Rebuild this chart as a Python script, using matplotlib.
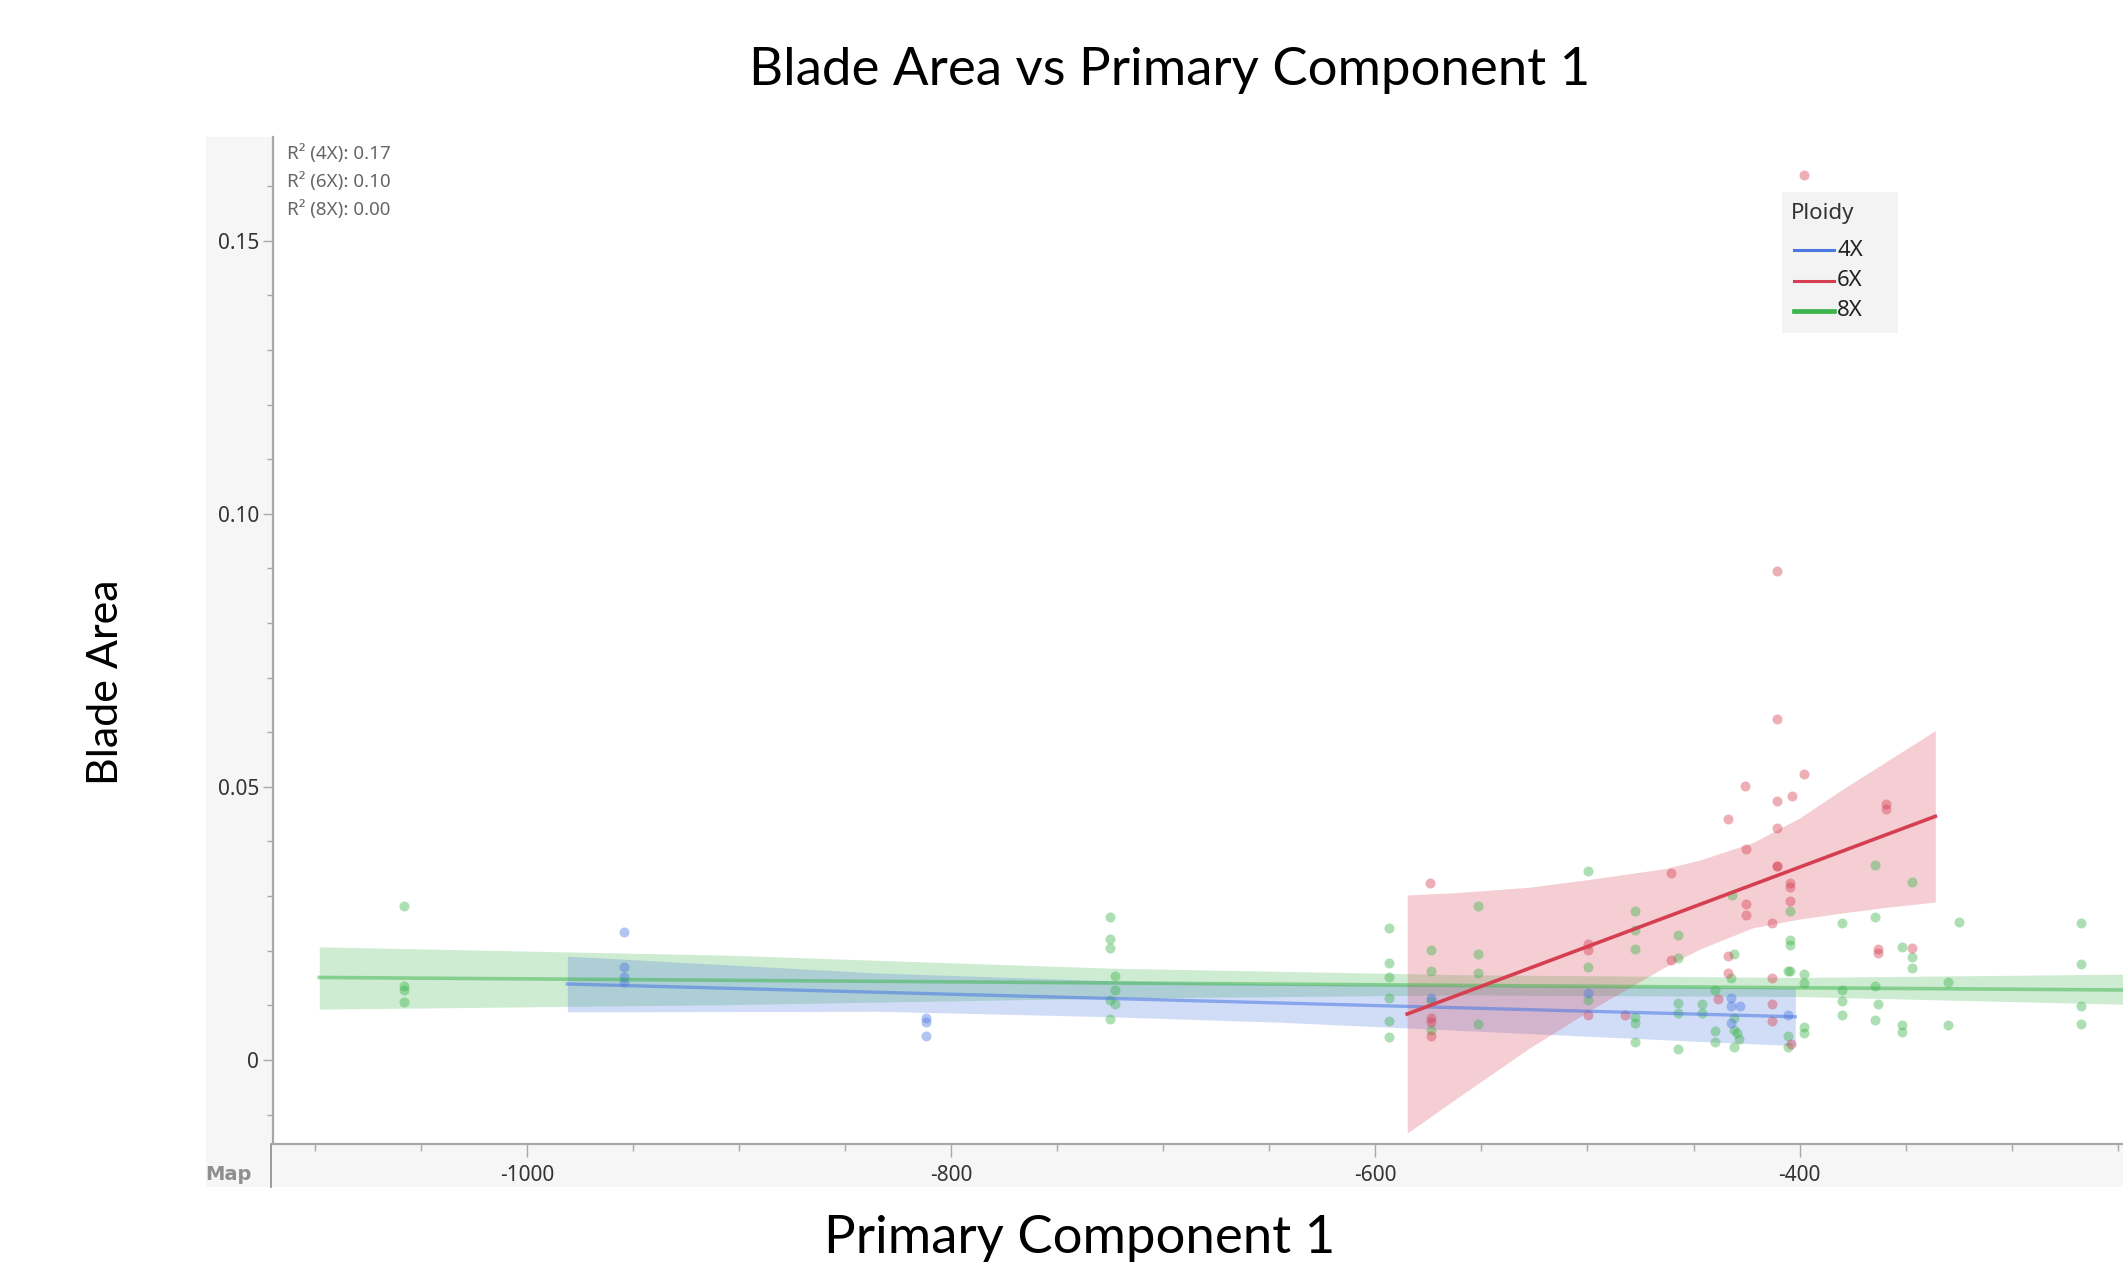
import matplotlib
matplotlib.use("Agg")
import matplotlib.pyplot as plt
from matplotlib.patches import Rectangle
from matplotlib.lines import Line2D
from matplotlib.ticker import MultipleLocator

# ---- data ----
x_4x = [-954.3, -954.3, -954.3, -954.3, -811.9, -811.9, -811.9,
        -574.0, -499.6, -432.1, -428.2, -432.1, -432.1, -405.3]
y_4x = [0.0235, 0.0170, 0.0151, 0.0143, 0.0076, 0.0070, 0.0043,
        0.0113, 0.0122, 0.0113, 0.0098, 0.0098, 0.0067, 0.0082]

x_6x = [-574.1, -574.0, -574.0, -574.0, -499.6, -499.6, -499.6, -482.3,
        -460.4, -460.4, -438.3, -433.9, -433.9, -433.9, -425.5, -425.4,
        -425.4, -425.4, -413.1, -413.1, -413.1, -413.1, -410.7, -410.7,
        -410.7, -410.7, -410.8, -410.8, -404.5, -404.5, -404.5, -403.5,
        -398.0, -398.1, -404.0, -362.8, -362.8, -347.1, -359.3, -359.3]
y_6x = [0.0324, 0.0076, 0.0070, 0.0044, 0.0212, 0.0201, 0.0082, 0.0082,
        0.0343, 0.0183, 0.0111, 0.0190, 0.0159, 0.0441, 0.0502, 0.0386,
        0.0286, 0.0266, 0.0251, 0.0150, 0.0103, 0.0072, 0.0895, 0.0625,
        0.0474, 0.0425, 0.0355, 0.0355, 0.0324, 0.0317, 0.0291, 0.0483,
        0.0523, 0.1621, 0.0029, 0.0203, 0.0195, 0.0204, 0.0468, 0.0460]

x_8x = [-1058, -1058, -1058, -1058,
        -725.1, -725.1, -725.1, -722.8, -722.8, -725.0, -722.8, -725.1,
        -593.6, -593.6, -593.6, -593.6, -593.6, -593.6,
        -574.0, -574.0, -574.0, -574.0,
        -551.5, -551.5, -551.5, -551.5,
        -499.6, -499.6, -499.6,
        -477.4, -477.4, -477.4, -477.4, -477.4, -477.4,
        -457.5, -457.5, -457.5, -457.5, -457.5,
        -445.8, -445.8, -439.9, -439.9, -439.9,
        -431.7, -430.8, -432.1, -430.8, -430.8, -429.7, -428.5, -430.8,
        -404.5, -404.5, -404.5, -405.3, -404.5, -405.3, -405.3,
        -397.9, -397.9, -397.9, -397.9,
        -379.8, -379.8, -379.8, -379.8,
        -364.4, -364.4, -364.4, -362.8, -364.4,
        -351.5, -347.1, -347.1, -347.1, -351.5, -351.5,
        -330.0, -330.0, -324.7,
        -267.4, -267.4, -267.4, -267.4]
y_8x = [0.0282, 0.0135, 0.0128, 0.0106,
        0.0261, 0.0221, 0.0204, 0.0154, 0.0128, 0.0109, 0.0102, 0.0075,
        0.0241, 0.0177, 0.0151, 0.0113, 0.0072, 0.0042,
        0.0201, 0.0163, 0.0107, 0.0055,
        0.0281, 0.0194, 0.0160, 0.0066,
        0.0345, 0.0170, 0.0110,
        0.0273, 0.0238, 0.0203, 0.0079, 0.0068, 0.0032,
        0.0229, 0.0186, 0.0104, 0.0086, 0.0020,
        0.0103, 0.0086, 0.0128, 0.0053, 0.0032,
        0.0302, 0.0194, 0.0150, 0.0076, 0.0055, 0.0049, 0.0038, 0.0024,
        0.0272, 0.0220, 0.0211, 0.0162, 0.0162, 0.0043, 0.0024,
        0.0157, 0.0140, 0.0061, 0.0049,
        0.0251, 0.0128, 0.0107, 0.0082,
        0.0357, 0.0261, 0.0135, 0.0103, 0.0073,
        0.0207, 0.0325, 0.0188, 0.0168, 0.0064, 0.0052,
        0.0142, 0.0064, 0.0252,
        0.0250, 0.0176, 0.0099, 0.0066]

# fitted lines and confidence bands (as drawn in the reference)
fit_x_4x = [-981, -402]
fit_y_4x = [0.0139, 0.0079]
band_x_4x = [-981, -834, -725, -645, -402]
band_lo_4x = [0.0088, 0.0089, 0.0079, 0.0069, 0.0026]
band_hi_4x = [0.0190, 0.0159, 0.0145, 0.0139, 0.0132]

fit_x_6x = [-585, -336]
fit_y_6x = [0.0084, 0.0446]
band_x_6x = [-585, -563, -528, -500, -464, -447, -422, -400, -380, -358, -336]
band_lo_6x = [-0.0134, -0.0074, 0.0020, 0.0088, 0.0169, 0.0203, 0.0242, 0.0258,
              0.0269, 0.0280, 0.0289]
band_hi_6x = [0.0302, 0.0306, 0.0316, 0.0330, 0.0350, 0.0366, 0.0398, 0.0443,
              0.0495, 0.0549, 0.0603]

fit_x_8x = [-1098, -247.5]
fit_y_8x = [0.0151, 0.0128]
band_x_8x = [-1098, -908, -725, -560, -400, -247.5]
band_lo_8x = [0.0093, 0.0101, 0.0113, 0.0119, 0.0116, 0.0102]
band_hi_8x = [0.0207, 0.0192, 0.0168, 0.0156, 0.0151, 0.0157]

r2_labels = ["R\u00b2 (4X): 0.17", "R\u00b2 (6X): 0.10", "R\u00b2 (8X): 0.00"]
ploidy = ["4X", "6X", "8X"]
xtick_vals = [-1000, -800, -600, -400]
xtick_labels = ["-1000", "-800", "-600", "-400"]
ytick_vals = [0, 0.05, 0.10, 0.15]
ytick_labels = ["0", "0.05", "0.10", "0.15"]

BLUE = "#4a78e0"
RED = "#d63f52"
GREEN = "#3cb44b"

W, H = 2123, 1268


def fx(px):
    return px / W


def fy(py):
    return 1 - py / H


fig = plt.figure(figsize=(W / 100, H / 100), dpi=100)
fig.patch.set_facecolor("white")

# grey JMP panel behind the axes
fig.patches.append(Rectangle((fx(206), fy(1187)), fx(2123) - fx(206), fy(137) - fy(1187),
                             transform=fig.transFigure, facecolor="#f6f6f6",
                             edgecolor="none", zorder=-5))
fig.lines.append(Line2D([fx(271), fx(271)], [fy(1144), fy(1187)], transform=fig.transFigure,
                        color="#8c8c8c", lw=1.2))
fig.text(fx(205), fy(1174), "Map", fontsize=14, fontweight="bold", color="#8f8f8f",
         family="DejaVu Sans", ha="left", va="center")

ax = fig.add_axes([fx(273), fy(1144), 1 - fx(273), fy(137) - fy(1144)])
ax.set_facecolor("white")

# bands
ax.fill_between(band_x_8x, band_lo_8x, band_hi_8x, color=GREEN, alpha=0.25, lw=0, zorder=1)
ax.fill_between(band_x_4x, band_lo_4x, band_hi_4x, color=BLUE, alpha=0.25, lw=0, zorder=1)
ax.fill_between(band_x_6x, band_lo_6x, band_hi_6x, color=RED, alpha=0.25, lw=0, zorder=1)

# points
ax.scatter(x_8x, y_8x, s=52, color=GREEN, alpha=0.42, linewidths=0, zorder=3)
ax.scatter(x_4x, y_4x, s=52, color=BLUE, alpha=0.42, linewidths=0, zorder=3)
ax.scatter(x_6x, y_6x, s=52, color=RED, alpha=0.42, linewidths=0, zorder=3)

# fit lines
ax.plot(fit_x_8x, fit_y_8x, color=GREEN, alpha=0.5, lw=2.6, zorder=4)
ax.plot(fit_x_4x, fit_y_4x, color=BLUE, alpha=0.55, lw=2.4, zorder=4)
ax.plot(fit_x_6x, fit_y_6x, color=RED, lw=2.6, zorder=5)

ax.set_xlim(-1119.8, -247.5)
ax.set_ylim(-0.0154, 0.169)

ax.set_xticks(xtick_vals, labels=xtick_labels)
ax.set_yticks(ytick_vals, labels=ytick_labels)
ax.xaxis.set_minor_locator(MultipleLocator(50))
ax.yaxis.set_minor_locator(MultipleLocator(0.01))

for s in ["top", "right"]:
    ax.spines[s].set_visible(False)
for s in ["left", "bottom"]:
    ax.spines[s].set_color("#a8a8a8")
    ax.spines[s].set_linewidth(1.6)

ax.tick_params(axis="x", which="major", length=9, width=1, color="#a8a8a8", pad=6,
               labelsize=15, labelcolor="#333333")
ax.tick_params(axis="x", which="minor", length=5, width=1, color="#a8a8a8")
ax.tick_params(axis="y", which="major", length=7, width=1, color="#a8a8a8", pad=3,
               labelsize=15, labelcolor="#333333")
ax.tick_params(axis="y", which="minor", length=4, width=1, color="#a8a8a8")
for lab in ax.get_xticklabels() + ax.get_yticklabels():
    lab.set_family("Noto Sans")

# R² notes
for i, t in enumerate(r2_labels):
    fig.text(fx(287), fy(154 + 28 * i), t, fontsize=13.5, color="#666666",
             family="Noto Sans", ha="left", va="center")

# legend
fig.patches.append(Rectangle((fx(1782), fy(333)), fx(1898) - fx(1782), fy(192) - fy(333),
                             transform=fig.transFigure, facecolor="#f3f3f3",
                             edgecolor="none", zorder=2))
fig.text(fx(1791), fy(213), "Ploidy", fontsize=16, color="#333333", family="Noto Sans",
         ha="left", va="center", zorder=3)
for lab, col, yy, lw in zip(ploidy, [BLUE, RED, GREEN], [250, 281, 311], [2.2, 2.2, 3.4]):
    fig.lines.append(Line2D([fx(1794), fx(1834)], [fy(yy), fy(yy)], transform=fig.transFigure,
                            color=col, lw=lw, zorder=3))
    fig.text(fx(1837), fy(yy), lab, fontsize=16, color="#222222", family="Noto Sans",
             ha="left", va="center", zorder=3)

# slide titles
fig.text(fx(1170), fy(70), "Blade Area vs Primary Component 1", fontsize=38,
         family="Lato", ha="center", va="center")
fig.text(fx(1080), fy(1239), "Primary Component 1", fontsize=38,
         family="Lato", ha="center", va="center")
fig.text(fx(106), fy(682), "Blade Area", fontsize=31, rotation=90,
         family="Lato", ha="center", va="center")

fig.savefig("out.png", dpi=100)
